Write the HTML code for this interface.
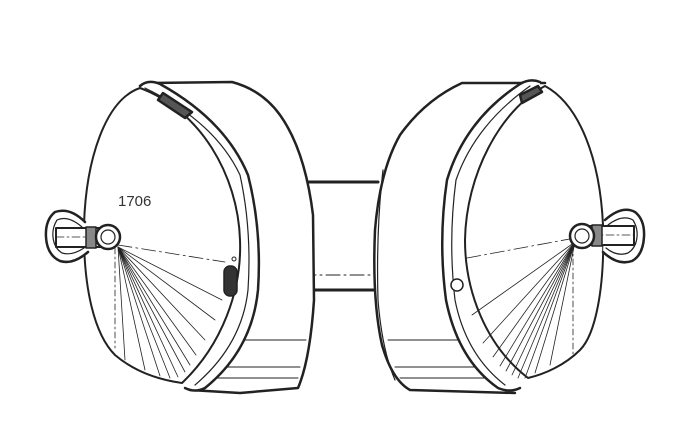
<!DOCTYPE html>
<html><head><meta charset="utf-8"><style>
html,body{margin:0;padding:0;background:#fff;}
svg{display:block;}
</style></head><body>
<svg width="700" height="438" viewBox="0 0 700 438" xmlns="http://www.w3.org/2000/svg">
<rect width="700" height="438" fill="#fff"/>
<g fill="none" stroke="#222" stroke-linejoin="round" stroke-linecap="round">
<!-- headband -->
<line x1="306" y1="182" x2="378" y2="182" stroke-width="3"/>
<line x1="306" y1="290" x2="378" y2="290" stroke-width="3"/>
<line x1="230" y1="275" x2="455" y2="275" stroke-width="1" stroke-dasharray="14,4,2,4"/>

<!-- LEFT CUP back shell -->
<path d="M150,83 L232,82 Q262,90 280,115 Q305,150 313,215 L314,300 Q310,360 298,388 L240,393 L190,390" stroke-width="2.5" fill="#fff"/>
<line x1="210" y1="340" x2="306" y2="340" stroke-width="1"/>
<line x1="220" y1="367" x2="300" y2="367" stroke-width="1"/>
<line x1="215" y1="378" x2="298" y2="378" stroke-width="1"/>
<!-- ring -->
<path d="M140,86 Q148,79 160,84 Q225,120 248,175 Q262,230 258,290 Q252,350 205,388 Q195,393 185,388" stroke-width="2.5" fill="#fff"/>
<path d="M145,88 Q215,122 240,175 Q252,230 248,290 Q242,345 195,385" stroke-width="1.2"/>
<!-- face -->
<path d="M140,88 C105,100 86,160 84,225 C83,290 95,335 115,355 C135,372 160,380 182,383 C222,345 242,290 240,240 C238,175 200,110 140,88 Z" stroke-width="2" fill="#fff"/>
<!-- top slot -->
<path d="M163,93 L192,112 L185,118 L158,100 Z" stroke-width="2.5" fill="#555"/>
<!-- button -->
<rect x="224" y="266" width="13" height="30" rx="6" fill="#333" stroke-width="1.5"/>
<circle cx="234" cy="259" r="2" stroke-width="1"/>
<!-- fan lines -->
<g stroke-width="0.8">
<line x1="118" y1="245" x2="225" y2="262" stroke-dasharray="14,4,2,4"/>
<line x1="118" y1="247" x2="222" y2="300"/>
<line x1="118" y1="247" x2="215" y2="320"/>
<line x1="118" y1="247" x2="205" y2="340"/>
<line x1="118" y1="247" x2="196" y2="355"/>
<line x1="118" y1="247" x2="190" y2="365"/>
<line x1="118" y1="247" x2="185" y2="372"/>
<line x1="118" y1="247" x2="178" y2="377"/>
<line x1="118" y1="247" x2="170" y2="378"/>
<line x1="118" y1="247" x2="160" y2="376"/>
<line x1="118" y1="247" x2="145" y2="370"/>
<line x1="118" y1="247" x2="125" y2="360"/>
<line x1="115" y1="248" x2="115" y2="348" stroke-dasharray="6,3,2,3"/>
</g>
<!-- left hinge -->
<path d="M85,222 Q70,207 55,212 Q45,220 46,237 Q47,255 60,261 Q73,265 88,252" stroke-width="2.5" fill="#fff"/>
<path d="M82,227 Q68,215 57,220 Q52,228 53,237 Q54,248 62,253 Q72,256 84,248" stroke-width="1.2"/>
<rect x="56" y="228" width="48" height="19" fill="#fff" stroke-width="2"/>
<line x1="56" y1="237" x2="100" y2="237" stroke-width="0.8" stroke-dasharray="8,3,2,3"/>
<rect x="86" y="227" width="10" height="21" fill="#888" stroke-width="1.5"/>
<circle cx="108" cy="237" r="12" fill="#fff" stroke-width="2.5"/>
<circle cx="108" cy="237" r="7" fill="#fff" stroke-width="1.2"/>

<!-- RIGHT CUP back shell -->
<path d="M545,83 L462,83 Q425,100 400,135 Q380,170 375,230 Q372,300 382,345 Q392,380 410,390 L515,393" stroke-width="2.5" fill="#fff"/>
<path d="M383,170 Q376,230 378,300 Q382,350 395,380" stroke-width="1.2"/>
<line x1="388" y1="340" x2="470" y2="340" stroke-width="1"/>
<line x1="395" y1="367" x2="485" y2="367" stroke-width="1"/>
<line x1="400" y1="378" x2="490" y2="378" stroke-width="1"/>
<!-- ring -->
<path d="M540,82 Q530,78 520,84 Q465,120 447,180 Q438,240 446,300 Q458,360 498,388 Q510,393 520,388" stroke-width="2.5" fill="#fff"/>
<path d="M530,86 Q475,125 456,180 Q448,240 455,300 Q466,355 505,385" stroke-width="1.2"/>
<!-- face -->
<path d="M545,86 C580,105 600,160 603,225 C605,290 595,335 580,350 C565,365 545,374 528,378 C485,345 465,290 465,240 C466,175 500,110 545,86 Z" stroke-width="2" fill="#fff"/>
<path d="M520,95 L538,86 L542,92 L522,103 Z" stroke-width="2.5" fill="#555"/>
<circle cx="457" cy="285" r="6" fill="#fff" stroke-width="1.5"/>
<g stroke-width="0.8">
<line x1="575" y1="238" x2="467" y2="258" stroke-dasharray="14,4,2,4"/>
<line x1="575" y1="242" x2="472" y2="315"/>
<line x1="575" y1="242" x2="483" y2="343"/>
<line x1="575" y1="242" x2="493" y2="357"/>
<line x1="575" y1="242" x2="500" y2="366"/>
<line x1="575" y1="242" x2="506" y2="371"/>
<line x1="575" y1="242" x2="512" y2="375"/>
<line x1="575" y1="242" x2="518" y2="378"/>
<line x1="575" y1="242" x2="525" y2="378"/>
<line x1="575" y1="242" x2="535" y2="373"/>
<line x1="575" y1="242" x2="550" y2="365"/>
<line x1="573" y1="245" x2="573" y2="355" stroke-dasharray="6,3,2,3"/>
</g>
<!-- right hinge -->
<path d="M605,220 Q622,205 635,212 Q645,220 644,237 Q643,255 632,261 Q618,266 603,252" stroke-width="2.5" fill="#fff"/>
<path d="M608,225 Q622,214 633,220 Q638,228 637,237 Q636,248 628,253 Q617,257 606,248" stroke-width="1.2"/>
<rect x="586" y="226" width="48" height="19" fill="#fff" stroke-width="2"/>
<line x1="590" y1="235" x2="634" y2="235" stroke-width="0.8" stroke-dasharray="8,3,2,3"/>
<rect x="592" y="225" width="10" height="21" fill="#888" stroke-width="1.5"/>
<circle cx="582" cy="236" r="12" fill="#fff" stroke-width="2.5"/>
<circle cx="582" cy="236" r="7" fill="#fff" stroke-width="1.2"/>
</g>
<text x="118" y="206" font-family="Liberation Sans, sans-serif" font-size="15" fill="#333">1706</text>
</svg>
</body></html>
